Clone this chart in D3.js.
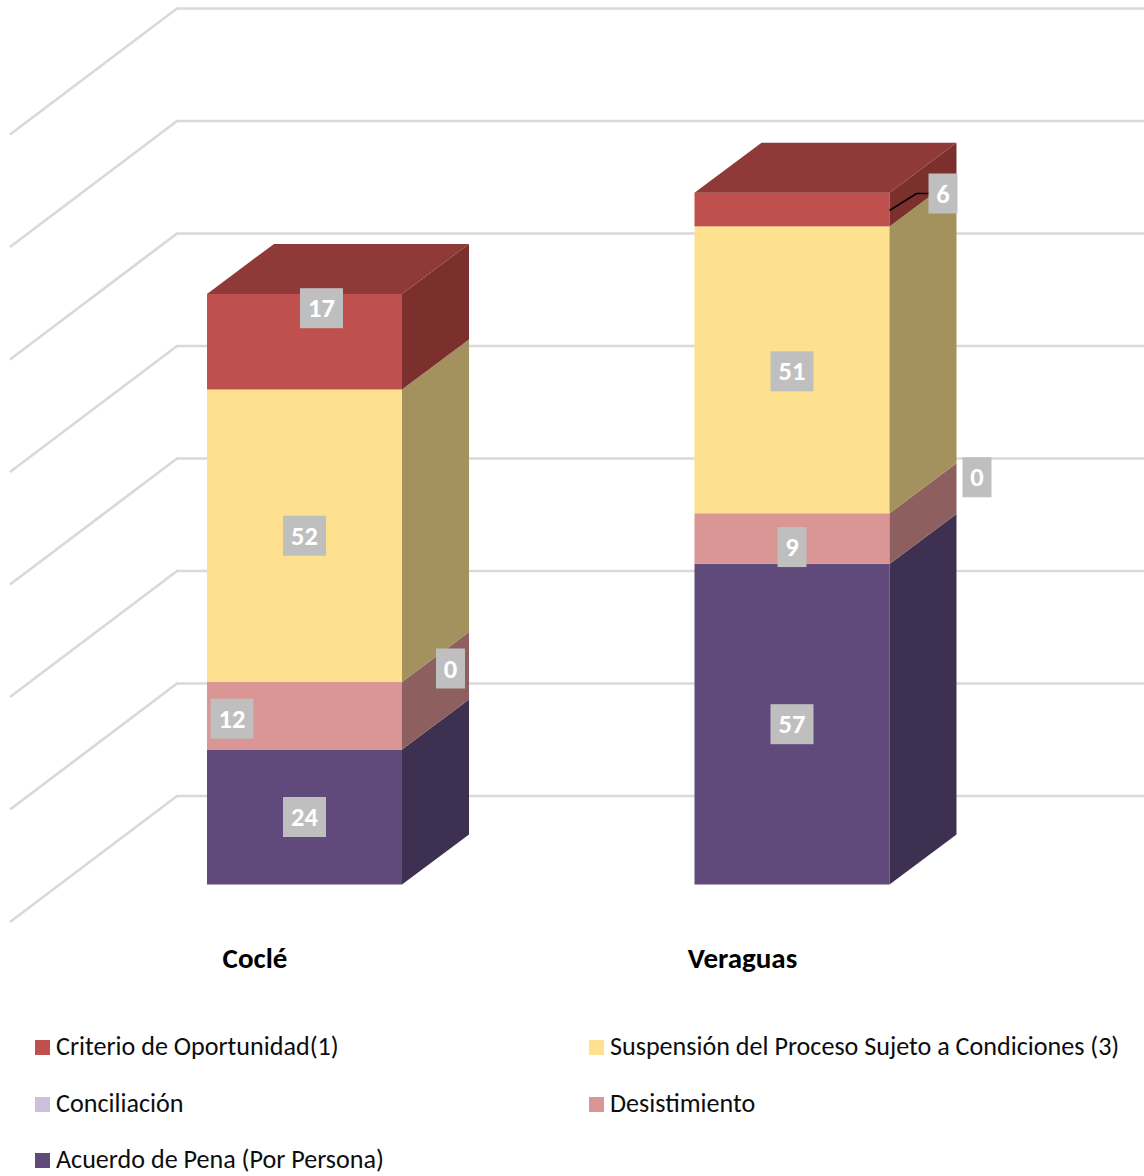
<!DOCTYPE html>
<html><head><meta charset="utf-8">
<script src="https://cdn.jsdelivr.net/npm/d3@7"></script>
<style>html,body{margin:0;padding:0;background:#fff}svg{display:block}text{font-family:Carlito,Calibri,Lato,sans-serif}</style>
</head><body><div id="chart"></div>
<script>
const categories = ["Coclé", "Veraguas"];
const seriesNames = ["Acuerdo de Pena (Por Persona)", "Desistimiento", "Conciliación", "Suspensión del Proceso Sujeto a Condiciones (3)", "Criterio de Oportunidad(1)"];
const acuerdo = [24, 57];
const desistimiento = [12, 9];
const conciliacion = [0, 0];
const suspension = [52, 51];
const criterio = [17, 6];
const legendOrder = [4, 3, 2, 1, 0];
const front = ["#604a7b", "#d99694", "#ccc1da", "#fde18f", "#c0504d"];
const side = ["#3e3050", "#8d5f5e", "#857d8e", "#a4925e", "#7c302e"];
const top_ = ["#4d3b62", "#ae7876", "#a39ab0", "#cab472", "#8f3a38"];
const values = [acuerdo, desistimiento, conciliacion, suspension, criterio];

const W = 1144, H = 1176;
const svg = d3.select("#chart").append("svg").attr("width", W).attr("height", H);
const y = d3.scaleLinear().domain([0, 140]).range([796, 8.5]);
const x = d3.scaleBand().domain(categories).range([60.75, 1035.75]).paddingInner(0.6).paddingOuter(0.3);
const wallX = 177, edgeX = 10, edgeDrop = 126;
const barDrop = 88.5, dx3 = 67, dy3 = 50;   // floor offset of bars from the back wall, depth of a bar

// gridlines
const grid = svg.append("g").attr("fill", "none").attr("stroke", "#d9d9d9").attr("stroke-width", 2.7);
y.ticks(7).forEach(t => {
  grid.append("path").attr("d", `M${edgeX},${y(t) + edgeDrop}L${wallX},${y(t)}L${W},${y(t)}`);
});

const vy = v => y(v) + barDrop;
const stacks = d3.stack().keys(d3.range(values.length)).value((i, k) => values[k][i])(categories.map((c, i) => i));

const bars = svg.append("g");
categories.forEach((c, i) => {
  const x0 = x(c), x1 = x0 + x.bandwidth();
  stacks.forEach((s, k) => {
    const a = vy(s[i][0]), b = vy(s[i][1]);
    if (a === b) return;
    bars.append("rect").attr("x", x0).attr("y", b).attr("width", x1 - x0).attr("height", a - b).attr("fill", front[k]);
    bars.append("path").attr("d", `M${x1},${a}L${x1 + dx3},${a - dy3}L${x1 + dx3},${b - dy3}L${x1},${b}Z`).attr("fill", side[k]);
  });
  const t = vy(stacks[stacks.length - 1][i][1]);
  bars.append("path").attr("d", `M${x0},${t}L${x0 + dx3},${t - dy3}L${x1 + dx3},${t - dy3}L${x1},${t}Z`).attr("fill", top_[4]);
});

// leader line of the small label
const cx = x("Veraguas") + x.bandwidth();
const ly = vy(acuerdo[1] + desistimiento[1] + suspension[1] + criterio[1] / 2);
svg.append("path").attr("fill", "none").attr("stroke", "#000").attr("stroke-width", 1.6)
  .attr("d", `M${cx},${ly + 1}L${cx + 27},${ly - 16}L${cx + 40},${ly - 16}`);

// data labels: offset of each label from the middle of its segment
const labelShiftX = [[0, 0], [-72.5, 0], [146, 185], [0, 0], [17, 151]];
const labelShiftY = [[0, 0], [3, 8.5], [-13.5, -36], [0, 1.5], [-33.5, -16]];
const labels = svg.append("g");
categories.forEach((c, i) => {
  stacks.forEach((s, k) => {
    const v = values[k][i];
    const lx = x(c) + x.bandwidth() / 2 + labelShiftX[k][i];
    const lyy = (vy(s[i][0]) + vy(s[i][1])) / 2 + labelShiftY[k][i];
    const w = String(v).length > 1 ? 43 : 29;
    labels.append("rect").attr("x", lx - w / 2).attr("y", lyy - 20).attr("width", w).attr("height", 40).attr("fill", "#bfbfbf");
    labels.append("text").attr("x", lx).attr("y", lyy + 9).attr("text-anchor", "middle")
      .attr("font-size", 26.5).attr("font-weight", 700).attr("fill", "#fff").text(v);
  });
});

// category labels
svg.append("g").selectAll("text").data(categories).join("text")
  .attr("x", d => x(d) + x.bandwidth() / 2 - 49.5).attr("y", 968).attr("text-anchor", "middle")
  .attr("font-size", 29).attr("font-weight", 700).attr("fill", "#000").text(d => d);

// legend
const leg = svg.append("g");
legendOrder.forEach((k, n) => {
  const col = n % 2, row = Math.floor(n / 2);
  const lx = col ? 589 : 35, ly2 = [1040, 1097, 1153][row];
  leg.append("rect").attr("x", lx).attr("y", ly2).attr("width", 15).attr("height", 15).attr("fill", front[k]);
  leg.append("text").attr("x", lx + 21).attr("y", ly2 + 15).attr("font-size", 26.1).attr("fill", "#0d0d0d").text(seriesNames[k]);
});
</script></body></html>
